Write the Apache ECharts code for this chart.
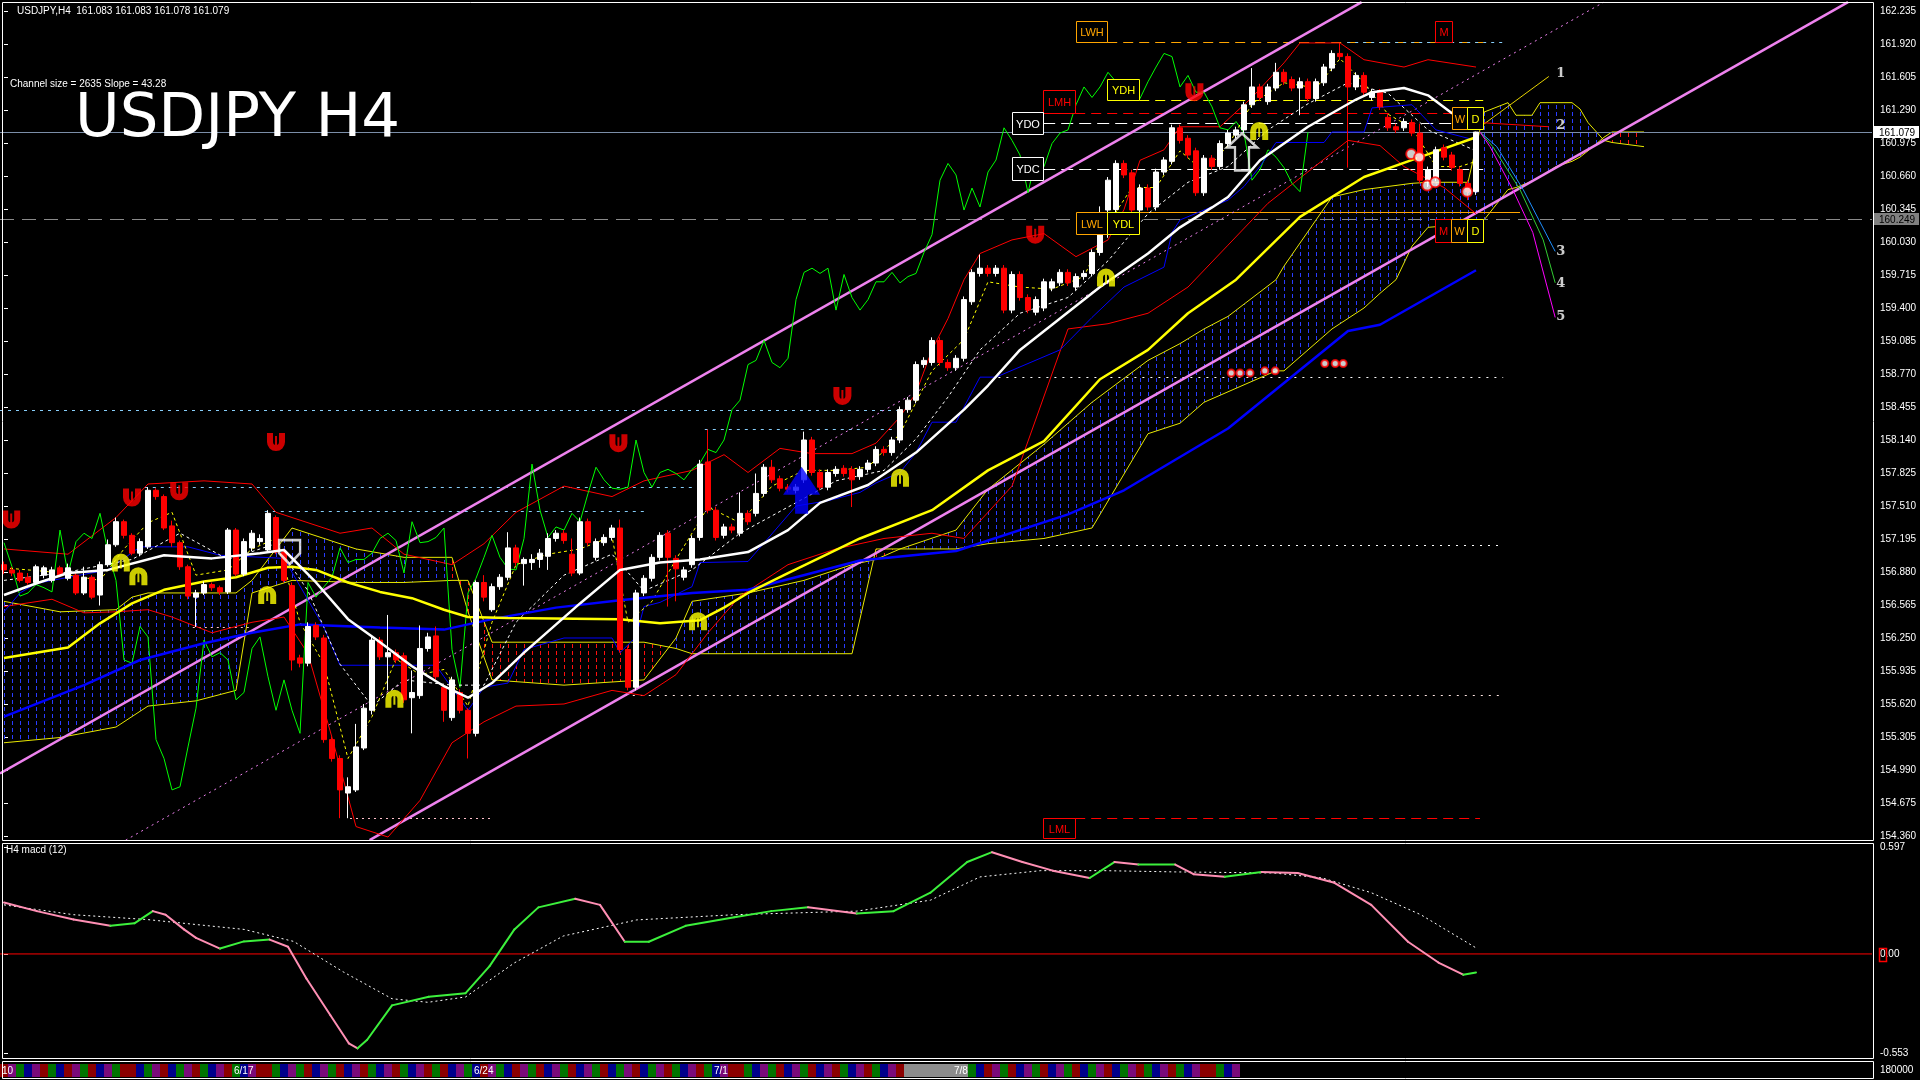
<!DOCTYPE html>
<html>
<head>
<meta charset="utf-8">
<title>USDJPY H4</title>
<script src="https://cdn.jsdelivr.net/npm/echarts@6.0.0/dist/echarts.min.js"></script>
<style>
html,body{margin:0;padding:0;background:#000;overflow:hidden;}
#chart{width:1920px;height:1080px;}
</style>
</head>
<body>
<div id="chart"></div>
<script>
// ---------------- price data (H4 bars: open, close, low, high) ----------------
const bars = [
[156.95,156.90,156.86,156.98],[156.90,156.87,156.84,156.93],[156.87,156.80,156.78,156.90],[156.83,156.78,156.76,156.87],
[156.78,156.93,156.76,156.95],[156.85,156.92,156.82,156.94],[156.80,156.90,156.78,156.93],[156.92,156.85,156.83,156.94],
[156.82,156.92,156.80,156.96],[156.85,156.68,156.66,156.87],[156.68,156.83,156.66,156.93],[156.83,156.64,156.62,156.85],
[156.66,156.95,156.56,156.98],[156.95,157.14,156.93,157.19],[157.14,157.36,157.12,157.40],[157.36,157.23,157.20,157.38],
[157.23,157.06,157.04,157.25],[157.06,157.17,157.03,157.20],[157.12,157.66,157.10,157.69],[157.66,157.60,157.57,157.68],
[157.60,157.30,157.28,157.62],[157.32,157.16,157.12,157.37],[157.16,156.93,156.90,157.18],[156.93,156.65,156.62,156.95],
[156.64,156.68,156.355,156.71],[156.68,156.76,156.66,156.79],[156.76,156.73,156.70,156.78],[156.73,156.69,156.66,156.75],
[156.69,157.28,156.67,157.30],[157.28,156.86,156.84,157.30],[156.86,157.17,156.84,157.20],[157.11,157.25,157.08,157.28],
[157.17,157.20,157.14,157.24],[157.09,157.44,157.07,157.47],[157.40,157.07,157.05,157.42],[157.07,156.80,156.78,157.10],
[156.75,156.04,155.94,156.78],[156.06,156.01,155.97,156.09],[156.01,156.36,155.98,156.40],[156.37,156.26,156.23,156.40],
[156.25,155.28,155.25,156.28],[155.28,155.10,155.07,155.31],[155.10,154.80,154.53,155.13],[154.77,154.83,154.53,154.92],
[154.80,155.21,154.78,155.43],[155.20,155.58,155.18,155.62],[155.56,156.23,155.52,156.27],[156.23,156.07,156.04,156.26],
[156.07,156.11,155.75,156.47],[156.11,156.04,156.01,156.14],[156.08,155.66,155.63,156.11],[155.68,155.73,155.34,155.94],
[155.70,156.15,155.67,156.37],[156.15,156.26,156.12,156.30],[156.27,155.88,155.85,156.36],[155.78,155.56,155.45,155.80],
[155.49,155.85,155.46,155.88],[155.73,155.56,155.53,155.76],[155.56,155.34,155.10,155.58],[155.34,156.78,155.31,156.80],
[156.78,156.64,156.60,156.85],[156.52,156.74,156.50,156.77],[156.74,156.83,156.71,156.86],[156.83,157.11,156.80,157.26],
[157.11,156.97,156.94,157.14],[156.96,157.00,156.75,157.02],[156.97,157.00,156.90,157.05],[157.00,157.06,156.92,157.10],
[157.03,157.20,156.90,157.25],[157.20,157.25,157.17,157.28],[157.25,157.18,157.15,157.28],[157.05,156.87,156.84,157.20],
[156.87,157.36,156.85,157.40],[157.36,157.16,157.13,157.39],[157.02,157.17,156.99,157.20],[157.16,157.21,157.13,157.24],
[157.21,157.30,157.18,157.33],[157.30,156.14,156.11,157.38],[156.14,155.78,155.75,156.17],[155.78,156.68,155.75,156.71],
[156.68,156.82,156.65,156.85],[156.82,157.02,156.79,157.05],[157.02,157.23,156.99,157.26],[157.25,157.02,156.55,157.28],
[157.01,156.91,156.60,157.04],[156.83,156.90,156.80,156.93],[156.95,157.20,156.92,157.23],[157.21,157.91,157.18,157.95],
[157.93,157.47,157.44,158.24],[157.47,157.21,157.18,157.50],[157.23,157.31,157.20,157.34],[157.31,157.28,157.25,157.34],
[157.25,157.44,157.22,157.64],[157.44,157.36,157.33,157.47],[157.44,157.63,157.41,157.82],[157.63,157.88,157.60,157.91],
[157.88,157.76,157.73,157.95],[157.77,157.68,157.65,157.80],[157.69,157.67,157.64,157.72],[157.66,157.69,157.63,157.72],
[157.76,158.14,157.73,158.22],[158.14,157.83,157.80,158.17],[157.83,157.69,157.66,157.86],[157.69,157.83,157.66,157.86],
[157.82,157.86,157.79,157.89],[157.87,157.82,157.79,157.90],[157.86,157.76,157.50,157.89],[157.79,157.86,157.76,157.89],
[157.86,157.92,157.83,157.95],[157.92,158.05,157.89,158.08],[158.05,158.02,157.99,158.08],[158.02,158.14,157.99,158.17],
[158.14,158.43,158.11,158.46],[158.43,158.52,158.40,158.55],[158.52,158.86,158.49,158.89],[158.86,158.90,158.83,158.93],
[158.88,159.09,158.85,159.12],[159.09,158.88,158.85,159.12],[158.88,158.83,158.80,158.91],[158.83,158.92,158.80,158.95],
[158.92,159.48,158.89,159.51],[159.46,159.74,159.43,159.77],[159.73,159.78,159.70,159.91],[159.78,159.73,159.70,159.81],
[159.73,159.78,159.70,159.81],[159.78,159.38,159.35,159.81],[159.38,159.72,159.35,159.75],[159.72,159.50,159.47,159.75],
[159.50,159.38,159.35,159.53],[159.36,159.48,159.33,159.51],[159.40,159.65,159.37,159.68],[159.59,159.65,159.56,159.68],
[159.64,159.74,159.61,159.77],[159.74,159.64,159.61,159.77],[159.60,159.70,159.57,159.73],[159.70,159.73,159.67,159.76],
[159.73,159.93,159.70,159.96],[159.93,160.10,159.90,160.37],[160.335,160.62,160.07,160.65],[160.34,160.78,160.31,160.81],
[160.78,160.67,160.64,160.81],[160.69,160.335,160.30,160.72],[160.335,160.545,160.30,160.58],[160.545,160.364,160.33,160.58],
[160.364,160.698,160.33,160.73],[160.698,160.813,160.67,160.84],[160.80,161.12,160.77,161.15],[161.12,161.00,160.97,161.15],
[161.02,160.86,160.83,161.05],[160.90,160.50,160.47,160.93],[160.50,160.83,160.47,160.86],[160.83,160.75,160.72,160.86],
[160.75,160.97,160.72,161.00],[160.97,161.07,160.94,161.10],[161.05,161.10,161.02,161.13],[161.10,161.34,161.07,161.37],
[161.34,161.51,161.31,161.69],[161.51,161.41,161.38,161.54],[161.37,161.51,161.34,161.54],[161.50,161.65,161.47,161.74],
[161.65,161.56,161.53,161.68],[161.58,161.50,161.47,161.61],[161.50,161.56,161.24,161.60],[161.56,161.40,161.37,161.59],
[161.40,161.56,161.37,161.59],[161.55,161.70,161.52,161.73],[161.69,161.83,161.66,161.86],[161.83,161.80,161.77,161.93],
[161.80,161.51,160.74,161.83],[161.51,161.62,161.48,161.65],[161.62,161.46,161.43,161.65],[161.41,161.46,161.38,161.49],
[161.46,161.32,161.29,161.49],[161.22,161.12,161.09,161.25],[161.13,161.10,161.07,161.16],[161.12,161.18,161.09,161.21],
[161.17,161.07,161.04,161.20],[161.07,160.62,160.59,161.16],[160.62,160.72,160.555,160.75],[160.64,160.91,160.61,160.94],
[160.93,160.84,160.81,160.96],[160.86,160.74,160.71,160.89],[160.72,160.59,160.56,160.75],[160.59,160.51,160.43,160.62],
[160.51,161.079,160.48,161.083]
];

// ---------------- indicator lines: [bar, value] ----------------
const maWhite = [[0,156.66],[4,156.77],[8,156.87],[13,156.90],[20,157.04],[26,157.01],[32,157.06],[35,157.09],[39,156.78],[43,156.43],[47,156.21],[51,155.98],[55,155.79],[58,155.68],[61,155.82],[65,156.11],[72,156.58],[77,156.90],[82,156.97],[87,157.00],[93,157.07],[98,157.28],[102,157.54],[108,157.71],[114,158.02],[120,158.43],[123,158.66],[127,159.00],[137,159.60],[143,159.92],[147,160.17],[151,160.36],[153,160.46],[157,160.81],[163,161.13],[169,161.39],[171,161.46],[175,161.50],[178,161.43],[181,161.26],[183,161.20]];
const maYellow = [[0,156.06],[8,156.16],[12,156.39],[16,156.58],[20,156.71],[25,156.79],[29,156.83],[33,156.92],[36,156.93],[39,156.90],[43,156.78],[47,156.69],[51,156.63],[55,156.52],[58,156.45],[63,156.44],[77,156.43],[82,156.39],[87,156.42],[90,156.54],[93,156.68],[98,156.87],[107,157.20],[116,157.47],[123,157.85],[130,158.13],[137,158.72],[143,159.00],[148,159.35],[154,159.67],[162,160.27],[170,160.65],[177,160.84],[184,161.03]];
const maBlue = [[0,155.50],[10,155.80],[17,156.04],[25,156.20],[31,156.30],[37,156.38],[47,156.35],[55,156.33],[61,156.43],[69,156.54],[77,156.61],[86,156.68],[93,156.71],[107,156.99],[119,157.08],[133,157.43],[140,157.66],[153,158.25],[168,159.18],[172,159.24],[178,159.50],[184,159.76]];
const kijun = [[0,156.50],[2,156.68],[4,156.77],[6,156.80],[13,156.90],[17,157.12],[23,157.12],[27,157.04],[35,157.01],[40,156.35],[42,155.99],[54,155.99],[55,155.88],[58,155.56],[60,155.78],[63,155.82],[65,156.14],[70,156.25],[76,156.25],[77,156.11],[79,156.26],[80,156.55],[82,156.59],[86,156.74],[87,156.97],[93,156.98],[99,157.51],[103,157.56],[107,157.64],[109,157.73],[112,157.83],[114,158.02],[116,158.31],[119,158.31],[122,158.74],[124,158.74],[132,159.00],[136,159.31],[140,159.60],[145,159.79],[146,160.12],[147,160.24],[153,160.43],[155,160.56],[157,160.75],[159,160.98],[165,160.98],[166,161.08],[170,161.08],[171,161.31],[176,161.34],[179,161.10],[184,161.00]];
const bandUpper = [[0,157.10],[8,157.05],[14,157.40],[18,157.72],[25,157.75],[31,157.72],[34,157.45],[38,157.35],[42,157.25],[46,157.30],[50,157.05],[56,156.95],[60,157.15],[64,157.45],[70,157.70],[76,157.60],[80,157.75],[86,157.85],[90,158.00],[93,157.83],[97,158.06],[101,158.01],[106,158.01],[109,158.11],[112,158.36],[114,158.59],[116,159.00],[118,159.30],[120,159.67],[122,159.92],[126,160.05],[130,160.11],[134,159.89],[138,160.05],[140,160.34],[142,160.81],[145,160.91],[147,161.13],[152,161.13],[156,161.41],[160,161.74],[162,161.93],[167,161.93],[170,161.77],[175,161.70],[178,161.77],[184,161.70]];
const bandLower = [[0,156.55],[6,156.62],[10,156.49],[14,156.50],[18,156.52],[21,156.45],[26,156.30],[31,156.40],[35,156.45],[38,156.10],[41,155.30],[44,154.45],[48,154.35],[52,154.70],[56,155.25],[60,155.45],[64,155.60],[70,155.62],[76,155.75],[80,155.70],[84,155.90],[88,156.30],[92,156.65],[98,156.95],[104,157.10],[110,157.20],[116,157.25],[120,157.20],[126,157.70],[133,159.20],[138,159.25],[143,159.35],[148,159.60],[153,160.00],[158,160.40],[163,160.70],[168,161.00],[172,160.95],[175,160.75],[180,160.55],[184,160.30]];
const ribbonFast = [[0,156.92],[6,156.88],[12,156.80],[15,157.10],[18,157.35],[21,157.45],[24,156.85],[28,156.90],[31,157.10],[34,157.20],[37,156.40],[40,156.00],[43,155.10],[46,155.50],[49,156.05],[52,155.90],[55,155.95],[58,155.60],[61,156.40],[64,156.95],[68,157.05],[72,157.10],[76,157.22],[78,156.40],[81,156.60],[84,157.00],[88,157.50],[92,157.35],[96,157.70],[100,157.85],[104,157.85],[108,157.88],[112,158.20],[116,158.80],[120,159.10],[123,159.65],[127,159.60],[131,159.58],[135,159.70],[138,160.20],[141,160.55],[144,160.55],[147,160.90],[150,160.70],[153,160.95],[156,161.35],[160,161.55],[164,161.50],[167,161.78],[170,161.55],[173,161.25],[176,161.12],[179,160.75],[182,160.75],[184,160.80]];
const ribbonSlow = [[0,156.80],[8,156.88],[16,157.00],[22,157.25],[28,157.00],[34,157.15],[38,156.70],[42,156.00],[46,155.60],[50,155.85],[56,155.80],[60,155.80],[64,156.40],[70,156.85],[76,157.05],[80,156.70],[86,156.90],[92,157.25],[98,157.50],[104,157.75],[110,157.85],[114,158.15],[118,158.55],[122,159.00],[127,159.35],[133,159.50],[138,159.85],[143,160.30],[148,160.60],[153,160.75],[158,161.10],[163,161.35],[168,161.55],[173,161.45],[178,161.10],[184,160.90]];

// lagging span, one value per bar starting at bar 0
const chikou = [157.16,156.93,156.65,156.68,156.76,156.73,156.69,157.28,156.86,157.17,157.25,157.20,157.44,157.07,156.80,156.04,156.01,156.36,156.26,155.28,155.10,154.80,154.83,155.21,155.58,156.23,156.07,156.11,156.04,155.66,155.73,156.15,156.26,155.88,155.56,155.85,155.56,155.34,156.78,156.64,156.74,156.83,157.11,156.97,157.00,157.00,157.06,157.20,157.25,157.18,156.87,157.36,157.16,157.17,157.21,157.30,156.14,155.78,156.68,156.82,157.02,157.23,157.02,156.91,156.90,157.20,157.91,157.47,157.21,157.31,157.28,157.44,157.36,157.63,157.88,157.76,157.68,157.67,157.69,158.14,157.83,157.69,157.83,157.86,157.82,157.76,157.86,157.92,158.05,158.02,158.14,158.43,158.52,158.86,158.90,159.09,158.88,158.83,158.92,159.48,159.74,159.78,159.73,159.78,159.38,159.72,159.50,159.38,159.48,159.65,159.65,159.74,159.64,159.70,159.73,159.93,160.10,160.62,160.78,160.67,160.335,160.545,160.364,160.698,160.813,161.12,161.00,160.86,160.50,160.83,160.75,160.97,161.07,161.10,161.34,161.51,161.41,161.51,161.65,161.56,161.50,161.56,161.40,161.56,161.70,161.83,161.80,161.51,161.62,161.46,161.46,161.32,161.12,161.10,161.18,161.07,160.62,160.72,160.91,160.84,160.74,160.59,160.51,161.079];

// cloud edges, sampled at bars
const cloudI = [0,7,14,16,18,24,29,31,36,44,50,56,58,61,70,80,84,86,93,100,106,109,112,119,123,130,136,143,147,150,153,159,160,166,170,172,174,176,178,183,185,188,189,191,192,194,196,197,198,200,201,205];
const cloudA = [156.60,156.50,156.52,156.64,156.68,156.68,156.68,156.80,157.30,157.10,157.02,157.02,156.50,155.85,155.80,155.85,156.25,156.60,156.68,156.80,156.95,157.00,157.10,157.28,157.67,158.10,158.50,158.90,159.06,159.20,159.32,159.67,159.80,160.46,160.53,160.55,160.57,160.59,160.60,160.60,161.27,161.36,161.24,161.24,161.36,161.36,161.36,161.30,161.17,161.00,160.98,160.94];
const cloudB = [155.25,155.30,155.40,155.50,155.60,155.65,155.75,156.68,156.80,156.78,156.78,156.80,156.80,156.21,156.21,156.21,156.15,156.10,156.10,156.10,156.10,157.10,157.10,157.10,157.15,157.20,157.30,158.20,158.30,158.50,158.60,158.80,158.80,159.20,159.40,159.54,159.67,159.99,160.17,160.20,160.24,160.53,160.55,160.61,160.65,160.75,160.80,160.84,160.90,161.03,161.08,161.08];

// regression channel (slope 43.28, size 2635)
const chanUpper = [[-0.5,154.958],[169.7,162.32]];
const chanLower = [[45.7,154.32],[230.5,162.32]];
const chanMid   = [[15.2,154.32],[200.0,162.32]];

// projected paths 1..5
const proj = [
  [[184,161.10],[193.1,161.61]],
  [[184.5,161.17],[193.1,161.13]],
  [[184.5,161.08],[186.6,160.94],[189.9,160.53],[193.9,159.94]],
  [[184.5,161.08],[186.1,160.94],[189.5,160.53],[192.4,160.05],[193.9,159.64]],
  [[184.5,161.08],[185.75,160.94],[188.6,160.53],[191.1,160.12],[193.9,159.31]]
];
const projTag = [[194.6,161.64,'1'],[194.6,161.137,'2'],[194.6,159.934,'3'],[194.6,159.63,'4'],[194.6,159.32,'5']];

// horizontal levels
const lvlPrice = [161.939,161.385,161.261,161.166,160.727,160.316,154.531,161.939,158.741,157.137,155.706,154.531,156.355,158.426,158.245,157.691,157.462,161.079,160.249];
const lvlFrom  = [137.9,141.9,133.9,129.9,129.9,137.9,133.9,167.9,124.3,129.5,77.6,43.25,23.6,-0.5,87.6,17.6,32.6,-0.5,-0.5];
const lvlTo    = [184.9,184.9,184.9,184.9,184.9,189.5,184.5,187.4,187.4,187.4,187.4,60.75,30.75,111.6,111.1,86.6,80.4,233.5,233.5];

// level tags: bar of left edge, price of top edge
const tagText = ['LWH','YDH','LMH','YDO','YDC','LWL','YDL','LML','M','W','D','M','W','D'];
const tagAt = [[134.0,162.140],[137.9,161.586],[129.9,161.481],[126.0,161.271],[126.0,160.841],[134.0,160.316],[137.9,160.316],[129.9,154.531],[178.9,162.140],[181.0,161.319],[182.9,161.319],[178.9,160.249],[180.9,160.249],[182.9,160.249]];

// signal marks
const fracUp   = [[0.9,157.38],[16,157.59],[21.9,157.65],[34,158.12],[76.8,158.11],[104.8,158.56],[128.9,160.10],[148.8,161.46]];
const fracDown = [[14.6,156.97],[16.8,156.84],[32.9,156.66],[48.8,155.67],[86.75,156.41],[112,157.78],[137.75,159.69],[156.9,161.09]];
const ringsBig = [[175.9,160.87],[176.9,160.84],[177.9,160.57],[178.9,160.60],[182.9,160.51]];
const ringsSmall = [[153.4,158.78],[154.5,158.78],[155.75,158.78],[157.6,158.80],[158.9,158.80],[165.1,158.87],[166.4,158.87],[167.4,158.87]];
const buyArrow = [[99.7,157.66]];
const hollowDown = [[35.7,157.07]];
const hollowUp = [[154.75,160.89]];

// MACD (12)
const macdI = [0,4.1,8.7,13.3,16.3,18.6,20.2,22.5,24,27,30,33.2,35.5,37.8,40.8,43.1,44.2,45.4,48.5,53.1,57.7,60.7,63.8,66.8,71.4,74.5,77.6,80.6,85.2,91.3,95.9,100.5,106.6,111.2,115.8,120.4,123.5,127.3,131.1,135.7,138.8,141.8,146.4,148.7,152.6,157.2,161.7,166.3,170.9,175.5,179.3,182.4,184];
const macdV = [0.287,0.239,0.192,0.157,0.171,0.239,0.219,0.137,0.09,0.03,0.07,0.08,0.04,-0.137,-0.342,-0.499,-0.527,-0.479,-0.287,-0.239,-0.219,-0.068,0.137,0.260,0.308,0.274,0.068,0.068,0.157,0.205,0.239,0.260,0.226,0.239,0.342,0.513,0.568,0.513,0.465,0.424,0.513,0.499,0.499,0.445,0.431,0.458,0.452,0.397,0.274,0.068,-0.048,-0.116,-0.103];
const sigI = [0,8.7,17.9,30,36.2,42.4,48.5,53,57.7,63.8,69.9,79.1,91.3,106.6,115.8,122,129.6,137.3,146.4,158.7,164.8,170.9,177.1,184];
const sigV = [0.274,0.219,0.192,0.137,0.07,-0.10,-0.25,-0.27,-0.24,-0.05,0.10,0.19,0.219,0.239,0.30,0.43,0.465,0.465,0.458,0.452,0.424,0.342,0.219,0.034];

// bottom session strip
const stripCodes = 'rpgbprgbrpgrbpgrrbgprbgprgbprgbprrgbpgrbpgrbprgbprgbprgrbpgbrpgbrpgrbpgrbpgrbgprbgprgbprgbprrgbpgrbpgrbprgbprgbprgrbpgbrpgbrpgrbpgrbpgrbgprbgprgbprgbprrgbp';
const stripGrey = [113,120];
const dateAt = [0,29,59,89,119];
const dateText = ['10','6/17','6/24','7/1','7/8'];

// ---------------- drawing ----------------
const NB = 234;
const FONT = '"Liberation Sans", Arial, sans-serif';
const cats = [];
for (let i = 0; i < NB; i++) cats.push(String(i));

const stripPalette = {r:'#8b0000', g:'#007400', b:'#00008b', p:'#7a0a7a'};
const lvlColor = ['#ffa500','#ffff00','#ff0000','#ffffff','#ffffff','#ffa500','#ff0000','#87cefa','#ffffff','#ffffff','#ffe4e1','#ffc0cb','#ffc0cb','#87cefa','#87cefa','#87cefa','#87cefa','#7b8ea8','#8a8a8a'];
const lvlDash  = [[10,6],[10,6],[10,6],[12,6],[12,6],null,[10,6],[3,5],[2,6],[2,6],[2,6],[2,4],[2,4],[3,5],[3,5],[3,5],[3,5],null,[14,8]];
const tagColor = ['#ffa500','#ffff00','#ff0000','#ffffff','#ffffff','#ffa500','#ffff00','#ff0000','#ff0000','#ffa500','#ffff00','#ff0000','#ffa500','#ffff00'];
const tagSize  = [[31,21],[32,21],[32,23],[31,22],[31,23],[31,22],[32,22],[32,20],[17,21],[15,22],[16,22],[16,23],[16,23],[16,23]];
const projColor = ['#e6d200','#ff0000','#1e90ff','#32cd32','#ff00ff'];

function hatch(col){
  const c = document.createElement('canvas');
  c.width = 8; c.height = 7;
  const g = c.getContext('2d');
  g.fillStyle = col;
  g.fillRect(4, 0, 1, 4);
  return c;
}
const hatchBlue = hatch('#2a3cff');
const hatchRed = hatch('#ff1010');

function line(data, color, width, type, z, opts){
  return Object.assign({type:'line', xAxisIndex:1, yAxisIndex:0, data:data, symbol:'none', silent:true,
    animation:false, lineStyle:{color:color, width:width, type:type || 'solid'}, z:z || 3}, opts || {});
}

const cloudSegs = [];
for (let k = 0; k < cloudI.length - 1; k++) {
  cloudSegs.push([cloudI[k], cloudA[k], cloudB[k], cloudI[k+1], cloudA[k+1], cloudB[k+1]]);
}
const macdSegs = [];
for (let k = 0; k < macdI.length - 1; k++) {
  macdSegs.push([macdI[k], macdV[k], macdI[k+1], macdV[k+1]]);
}
const lvlData = lvlPrice.map((p, k) => [lvlFrom[k], lvlTo[k], p]);
const chikouData = chikou.map((v, i) => [i, v]);
const sigData = sigI.map((x, k) => [x, sigV[k]]);
const stripData = stripCodes.split('').map((c, i) => [i, 0]);

const pathUp = 'path://M1,1 L7,1 L7,10 A3,3 0 0 0 13,10 L13,1 L19,1 L19,10 A9,9 0 0 1 1,10 Z M9,4 L11,4 L11,16 L9,16 Z';
const pathDown = 'path://M1,19 L7,19 L7,10 A3,3 0 0 1 13,10 L13,19 L19,19 L19,10 A9,9 0 0 0 1,10 Z M9,16 L11,16 L11,4 L9,4 Z';
const pathArrow = 'path://M18.5,0 L37,28 L25,28 L25,47 L12,47 L12,28 L0,28 Z';
const pathHollowDown = 'path://M0,0 L21,0 L21,13 L10.5,24 L0,13 Z';
const pathHollowUp = 'path://M15,0 L30,14 L22,14 L22,37 L8,37 L8,14 L0,14 Z';

const series = [];

// cloud hatch
series.push({
  type:'custom', xAxisIndex:1, yAxisIndex:0, z:1, silent:true, animation:false, clip:true,
  data: cloudSegs, encode:{x:[0,3], y:[1,2,4,5]},
  renderItem: function(params, api){
    const a1 = api.coord([api.value(0), api.value(1)]);
    const a2 = api.coord([api.value(3), api.value(4)]);
    const b2 = api.coord([api.value(3), api.value(5)]);
    const b1 = api.coord([api.value(0), api.value(2)]);
    const up = api.value(1) + api.value(4) >= api.value(2) + api.value(5);
    return {type:'polygon', shape:{points:[a1, a2, b2, b1]},
      style:{fill:{image: up ? hatchBlue : hatchRed, repeat:'repeat'}, stroke:null}};
  }
});
series.push(line(cloudI.map((x, k) => [x, cloudA[k]]), '#e8e800', 1, 'solid', 2));
series.push(line(cloudI.map((x, k) => [x, cloudB[k]]), '#e8e800', 1, 'solid', 2));

// channel
series.push(line(chanUpper, '#ee82ee', 2.5, 'solid', 3));
series.push(line(chanLower, '#ee82ee', 2.5, 'solid', 3));
series.push(line(chanMid, '#ee82ee', 1, [2,4], 3));

// horizontal levels
series.push({
  type:'custom', xAxisIndex:1, yAxisIndex:0, z:3, silent:true, animation:false, clip:true,
  data: lvlData, encode:{x:[0,1], y:2},
  renderItem: function(params, api){
    const k = params.dataIndex;
    const p1 = api.coord([api.value(0), api.value(2)]);
    const p2 = api.coord([api.value(1), api.value(2)]);
    const y = Math.round(p1[1]) + 0.5;
    return {type:'line', shape:{x1:p1[0], y1:y, x2:p2[0], y2:y},
      style:{stroke:lvlColor[k], lineWidth:1, lineDash:lvlDash[k] || null}};
  }
});

// bands, averages
series.push(line(bandUpper, '#ff0000', 1, 'solid', 4));
series.push(line(bandLower, '#ff0000', 1, 'solid', 4));
series.push(line(chikouData, '#00ff00', 1, 'solid', 4));
series.push(line(kijun, '#0000ff', 1, 'solid', 4));
series.push(line(ribbonSlow, '#ffffff', 1, [3,3], 4));
series.push(line(ribbonFast, '#ffff00', 1, [3,3], 4));
series.push(line(maBlue, '#0000ff', 2.5, 'solid', 5));
series.push(line(maYellow, '#ffff00', 2.5, 'solid', 5));

// candles
series.push({
  type:'candlestick', xAxisIndex:0, yAxisIndex:0, data:bars, barWidth:5, animation:false, silent:true, z:6,
  itemStyle:{color:'#ffffff', color0:'#ff0000', borderColor:'#ffffff', borderColor0:'#ff0000', borderWidth:1}
});
series.push(line(maWhite, '#ffffff', 2.5, 'solid', 7));

// projections
proj.forEach((d, k) => series.push(line(d, projColor[k], 1, 'solid', 7, {clip:false})));
series.push({
  type:'scatter', xAxisIndex:1, yAxisIndex:0, data:projTag, symbolSize:0, silent:true, animation:false, z:8,
  label:{show:true, position:'inside', formatter:p => p.data[2], color:'#ffffff',
    fontFamily:'"DejaVu Serif", serif', fontWeight:'bold', fontSize:13}
});

// marks
series.push({type:'scatter', xAxisIndex:1, yAxisIndex:0, data:fracUp, symbol:pathUp, symbolSize:18,
  itemStyle:{color:'#ff0000'}, silent:true, animation:false, z:9});
series.push({type:'scatter', xAxisIndex:1, yAxisIndex:0, data:fracDown, symbol:pathDown, symbolSize:18,
  itemStyle:{color:'#ffff00'}, silent:true, animation:false, z:9});
series.push({type:'scatter', xAxisIndex:1, yAxisIndex:0, data:ringsBig, symbol:'emptyCircle', symbolSize:10,
  itemStyle:{color:'#ff0000', borderColor:'#ff0000', borderWidth:1.5}, silent:true, animation:false, z:9});
series.push({type:'scatter', xAxisIndex:1, yAxisIndex:0, data:ringsSmall, symbol:'emptyCircle', symbolSize:7,
  itemStyle:{color:'#ff0000', borderColor:'#ff0000', borderWidth:1.5}, silent:true, animation:false, z:9});
series.push({type:'scatter', xAxisIndex:1, yAxisIndex:0, data:buyArrow, symbol:pathArrow, symbolSize:[37,47],
  itemStyle:{color:'#0000ff'}, silent:true, animation:false, z:9});
series.push({type:'scatter', xAxisIndex:1, yAxisIndex:0, data:hollowDown, symbol:pathHollowDown, symbolSize:[21,24],
  itemStyle:{color:'rgba(0,0,0,0)', borderColor:'#ffffff', borderWidth:2.5}, silent:true, animation:false, z:9});
series.push({type:'scatter', xAxisIndex:1, yAxisIndex:0, data:hollowUp, symbol:pathHollowUp, symbolSize:[30,37],
  itemStyle:{color:'rgba(0,0,0,0)', borderColor:'#ffffff', borderWidth:2.5}, silent:true, animation:false, z:9});

// level tags
series.push({
  type:'custom', xAxisIndex:1, yAxisIndex:0, z:10, silent:true, animation:false, clip:false,
  data: tagAt, encode:{x:0, y:1},
  renderItem: function(params, api){
    const k = params.dataIndex;
    const p = api.coord([api.value(0), api.value(1)]);
    const w = tagSize[k][0], h = tagSize[k][1];
    const x = Math.round(p[0]) + 0.5, y = Math.round(p[1]) + 0.5;
    return {type:'group', children:[
      {type:'rect', shape:{x:x, y:y, width:w, height:h}, style:{fill:'#000000', stroke:tagColor[k], lineWidth:1}},
      {type:'text', x:x + w / 2, y:y + h / 2 + 1, style:{text:tagText[k], fill:tagColor[k],
        font:'11px ' + FONT, align:'center', verticalAlign:'middle'}}
    ]};
  }
});

// price tags on the scale
series.push({
  type:'custom', xAxisIndex:1, yAxisIndex:0, z:10, silent:true, animation:false, clip:false,
  data:[[233.5,161.079],[233.5,160.249]], encode:{x:0, y:1},
  renderItem: function(params, api){
    const k = params.dataIndex;
    const p = api.coord([api.value(0), api.value(1)]);
    const y = Math.round(p[1]);
    return {type:'group', children:[
      {type:'rect', shape:{x:p[0] + 2, y:y - 6, width:45, height:12}, style:{fill:k === 0 ? '#ffffff' : '#808080'}},
      {type:'text', x:p[0] + 7, y:y + 1, style:{text:api.value(1).toFixed(3), fill:'#000000',
        font:'10px ' + FONT, align:'left', verticalAlign:'middle'}}
    ]};
  }
});

// MACD
series.push({type:'line', xAxisIndex:3, yAxisIndex:2, data:[[-0.5,0],[233.5,0]], symbol:'none', silent:true,
  animation:false, lineStyle:{color:'#ff0000', width:1}, z:2});
series.push({type:'line', xAxisIndex:3, yAxisIndex:2, data:sigData, symbol:'none', silent:true,
  animation:false, lineStyle:{color:'#ffffff', width:1, type:[2,3]}, z:3});
series.push({
  type:'custom', xAxisIndex:3, yAxisIndex:2, z:4, silent:true, animation:false,
  data: macdSegs, encode:{x:[0,2], y:[1,3]},
  renderItem: function(params, api){
    const p1 = api.coord([api.value(0), api.value(1)]);
    const p2 = api.coord([api.value(2), api.value(3)]);
    const rising = api.value(3) >= api.value(1);
    return {type:'line', shape:{x1:p1[0], y1:p1[1], x2:p2[0], y2:p2[1]},
      style:{stroke: rising ? '#3cf03c' : '#ff8fb4', lineWidth:2, lineCap:'round'}};
  }
});

// session strip
series.push({
  type:'custom', xAxisIndex:4, yAxisIndex:3, z:2, silent:true, animation:false,
  data: stripData, encode:{x:0},
  renderItem: function(params, api){
    const i = api.value(0);
    const a = api.coord([i - 0.5, 1]);
    const b = api.coord([i + 0.5, 0]);
    let col = stripPalette[stripCodes[params.dataIndex]];
    if (i >= stripGrey[0] && i <= stripGrey[1]) col = '#8c8c8c';
    return {type:'rect', shape:{x:a[0], y:a[1], width:b[0] - a[0], height:b[1] - a[1]}, style:{fill:col}};
  }
});
series.push({
  type:'custom', xAxisIndex:4, yAxisIndex:3, z:3, silent:true, animation:false, clip:false,
  data: dateAt.map(i => [i, 0.5]), encode:{x:0, y:1},
  renderItem: function(params, api){
    const p = api.coord([api.value(0) - 0.5, api.value(1)]);
    return {type:'text', x:p[0] + 2, y:p[1] + 1, style:{text:dateText[params.dataIndex], fill:'#ffffff',
      font:'10px ' + FONT, align:'left', verticalAlign:'middle'}};
  }
});

const option = {
  backgroundColor:'#000000',
  animation:false,
  grid:[
    {left:0, top:2, width:1872, height:838},
    {left:0, top:11, width:1872, height:825},
    {left:0, top:847, width:1872, height:206},
    {left:0, top:1064, width:1872, height:13}
  ],
  xAxis:[
    {type:'category', gridIndex:0, data:cats, show:false, boundaryGap:true},
    {type:'value', gridIndex:0, min:-0.5, max:NB - 0.5, show:false},
    {type:'value', gridIndex:1, min:-0.5, max:NB - 0.5, show:false},
    {type:'value', gridIndex:2, min:-0.5, max:NB - 0.5, show:false},
    {type:'value', gridIndex:3, min:-0.5, max:NB - 0.5, show:false}
  ],
  yAxis:[
    {type:'value', gridIndex:0, min:154.3218, max:162.3209, show:false},
    {type:'value', gridIndex:1, position:'right', min:154.36, max:162.235, interval:0.315,
      axisLine:{show:false}, splitLine:{show:false},
      axisTick:{show:true, length:4, lineStyle:{color:'#ffffff'}},
      axisLabel:{show:true, color:'#ffffff', fontFamily:FONT, fontSize:10, margin:8,
        showMinLabel:true, showMaxLabel:true, formatter:v => v.toFixed(3)}},
    {type:'value', gridIndex:2, position:'right', min:-0.553, max:0.597,
      axisLine:{show:false}, splitLine:{show:false},
      axisTick:{show:true, length:4, lineStyle:{color:'#ffffff'}, customValues:[-0.553, 0, 0.597]},
      axisLabel:{show:true, color:'#ffffff', fontFamily:FONT, fontSize:10, margin:8,
        customValues:[-0.553, 0, 0.597], formatter:v => (Math.abs(v) < 1e-9 ? '0.00' : v.toFixed(3))}},
    {type:'value', gridIndex:3, min:0, max:1, show:false}
  ],
  graphic:[
    {type:'rect', silent:true, z:100, shape:{x:2.5, y:2.5, width:1871, height:838}, style:{fill:null, stroke:'#ffffff', lineWidth:1}},
    {type:'rect', silent:true, z:100, shape:{x:2.5, y:843.5, width:1871, height:215}, style:{fill:null, stroke:'#ffffff', lineWidth:1}},
    {type:'rect', silent:true, z:100, shape:{x:2.5, y:1061.5, width:1871, height:17}, style:{fill:null, stroke:'#ffffff', lineWidth:1}},
    {type:'rect', silent:true, z:100, shape:{x:1879.5, y:948.5, width:7, height:13}, style:{fill:null, stroke:'#ff0000', lineWidth:1.5}},
    {type:'text', silent:true, z:100, x:17, y:11, style:{text:'USDJPY,H4  161.083 161.083 161.078 161.079', fill:'#ffffff', font:'10px ' + FONT, verticalAlign:'middle'}},
    {type:'text', silent:true, z:100, x:10, y:84, style:{text:'Channel size = 2635 Slope = 43.28', fill:'#ffffff', font:'10px ' + FONT, verticalAlign:'middle'}},
    {type:'text', silent:true, z:100, x:75, y:90, style:{text:'USDJPY H4', fill:'#ffffff', font:'61px "DejaVu Sans", sans-serif', verticalAlign:'top'}},
    {type:'text', silent:true, z:100, x:6, y:850, style:{text:'H4 macd (12)', fill:'#ffffff', font:'10px ' + FONT, verticalAlign:'middle'}},
    {type:'text', silent:true, z:100, x:1880, y:1070, style:{text:'180000', fill:'#ffffff', font:'10px ' + FONT, verticalAlign:'middle'}}
  ],
  series:series
};

const chart = echarts.init(document.getElementById('chart'), null, {renderer:'canvas', width:1920, height:1080});
chart.setOption(option);
</script>
</body>
</html>
